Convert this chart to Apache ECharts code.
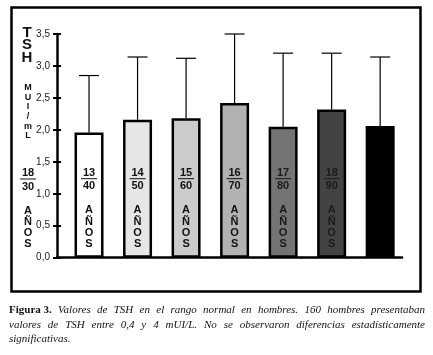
<!DOCTYPE html>
<html><head><meta charset="utf-8">
<script src="https://cdn.jsdelivr.net/npm/echarts@6/dist/echarts.min.js"></script>
<style>html,body{margin:0;padding:0;background:#fff}#c{width:433px;height:355px}</style>
</head><body><div id="c"></div>
<script>
const categories = ['18-30','31-40','41-50','51-60','61-70','71-80','81-90'];
const meanValues = [1.96, 2.16, 2.18, 2.42, 2.05, 2.32, 2.06];
const upperValues = [2.85, 3.14, 3.12, 3.50, 3.20, 3.20, 3.14];
const barColors = ['#ffffff','#e6e6e6','#cccccc','#b2b2b2','#747474','#434343','#000000'];
const numerators = ['13','14','15','16','17','18',''];
const denominators = ['40','50','60','70','80','90',''];
const captionBold = 'Figura 3.';
const captionLines = [
  'Valores de TSH en el rango normal en hombres. 160 hombres presentaban',
  'valores de TSH entre 0,4 y 4 mUI/L. No se observaron diferencias estadísticamente',
  'significativas.'
];

const chart = echarts.init(document.getElementById('c'), null, {renderer:'canvas'});
const barData = meanValues.map((v,i)=>({value:[i,v], itemStyle:{color:barColors[i]}}));
const errData = meanValues.map((v,i)=>[i, v, upperValues[i]]);
const lblData = categories.map((c,i)=>[i, 0]);
const fmt = v => v.toFixed(1).replace('.', ',');

function vertText(x, y, letters, size, gap, fill){
  return letters.split('').map((ch,k)=>({type:'text', x:x, y:y+k*gap,
    style:{text:ch, fill:fill||'#111', font:'bold '+size+'px "Liberation Sans", Arial', align:'center', verticalAlign:'top'}}));
}

const graphics = [];
graphics.push({type:'rect', shape:{x:11.5,y:7.5,width:409,height:284}, style:{fill:null, stroke:'#000', lineWidth:2.5}, z:10});
vertText(27, 25, 'TSH', 15, 12.5).forEach(g=>graphics.push(g));
vertText(28, 83, 'MUI/mL', 9, 9.7).forEach(g=>graphics.push(g));
graphics.push({type:'text', x:28, y:167, style:{text:'18', fill:'#111', font:'bold 11px "Liberation Sans", Arial', align:'center', verticalAlign:'top'}});
graphics.push({type:'line', shape:{x1:20,y1:179,x2:36,y2:179}, style:{stroke:'#111', lineWidth:1}});
graphics.push({type:'text', x:28, y:181, style:{text:'30', fill:'#111', font:'bold 11px "Liberation Sans", Arial', align:'center', verticalAlign:'top'}});
vertText(28, 205, 'AÑOS', 11, 11.3).forEach(g=>graphics.push(g));

// caption, justified word by word
const mctx = document.createElement('canvas').getContext('2d');
const fI = 'italic 11px "Liberation Serif", serif';
const fB = 'bold 11px "Liberation Serif", serif';
const capLeft = 9, capRight = 425;
captionLines.forEach((ln, li)=>{
  const y = 305 + li*14.3;
  const words = [];
  if(li===0){ mctx.font = fB; words.push({t:captionBold, f:fB, w:mctx.measureText(captionBold).width}); }
  ln.split(' ').forEach(w=>{ mctx.font = fI; words.push({t:w, f:fI, w:mctx.measureText(w).width}); });
  const total = words.reduce((s,w)=>s+w.w,0);
  let gap = li < captionLines.length-1 ? (capRight-capLeft-total)/(words.length-1) : 3.5;
  let x = capLeft;
  words.forEach(w=>{
    graphics.push({type:'text', x:x, y:y, style:{text:w.t, font:w.f, fill:'#111', verticalAlign:'top'}});
    x += w.w + gap;
  });
});

chart.setOption({
  animation:false,
  backgroundColor:'#fff',
  grid:{left:57, right:31, top:34, bottom:97.3, containLabel:false},
  xAxis:{type:'value', min:-0.66, max:6.45, axisLine:{show:true, onZero:false, lineStyle:{color:'#000', width:2.5}},
    axisTick:{show:false}, axisLabel:{show:false}, splitLine:{show:false}},
  yAxis:[
    {type:'value', min:0, max:3.5, interval:0.5, axisLine:{show:true, onZero:false, lineStyle:{color:'#000', width:2.5}},
     axisTick:{show:true, length:4, lineStyle:{color:'#000', width:2}},
     axisLabel:{formatter:fmt, color:'#222', fontSize:10, fontFamily:'"Liberation Sans", Arial', margin:7},
     splitLine:{show:false}},
    {type:'value', min:0, max:3.5, interval:0.5, position:'left', axisLine:{show:false, onZero:false},
     axisTick:{show:true, inside:true, length:4, lineStyle:{color:'#000', width:2}},
     axisLabel:{show:false}, splitLine:{show:false}}
  ],
  series:[
    {type:'custom', z:1, renderItem:(params, api)=>{
      const x = api.value(0);
      const p0 = api.coord([x, api.value(1)]);
      const p1 = api.coord([x, api.value(2)]);
      return {type:'group', children:[
        {type:'line', shape:{x1:p0[0], y1:p0[1], x2:p1[0], y2:p1[1]}, style:{stroke:'#000', lineWidth:1.2}},
        {type:'line', shape:{x1:p1[0]-10, y1:p1[1], x2:p1[0]+10, y2:p1[1]}, style:{stroke:'#000', lineWidth:1.2}}
      ]};
    }, data:errData},
    {type:'bar', z:2, barWidth:29, data:barData, itemStyle:{borderColor:'#000', borderWidth:2.5}},
    {type:'custom', z:5, renderItem:(params, api)=>{
      const i = params.dataIndex;
      if(!numerators[i]) return null;
      const p = api.coord([api.value(0), 0]);
      const cx = p[0];
      const fill = i>=4 ? '#1a1a1a' : '#111';
      const ch = [
        {type:'text', x:cx, y:p[1]-90, style:{text:numerators[i], fill:fill, font:'bold 11px "Liberation Sans", Arial', align:'center', verticalAlign:'top'}},
        {type:'line', shape:{x1:cx-8, y1:p[1]-79, x2:cx+8, y2:p[1]-79}, style:{stroke:fill, lineWidth:1}},
        {type:'text', x:cx, y:p[1]-77, style:{text:denominators[i], fill:fill, font:'bold 11px "Liberation Sans", Arial', align:'center', verticalAlign:'top'}}
      ];
      vertText(cx, p[1]-53, 'AÑOS', 11, 11.3, fill).forEach(g=>ch.push(g));
      return {type:'group', children:ch};
    }, data:lblData}
  ],
  graphic:graphics
});
</script></body></html>
